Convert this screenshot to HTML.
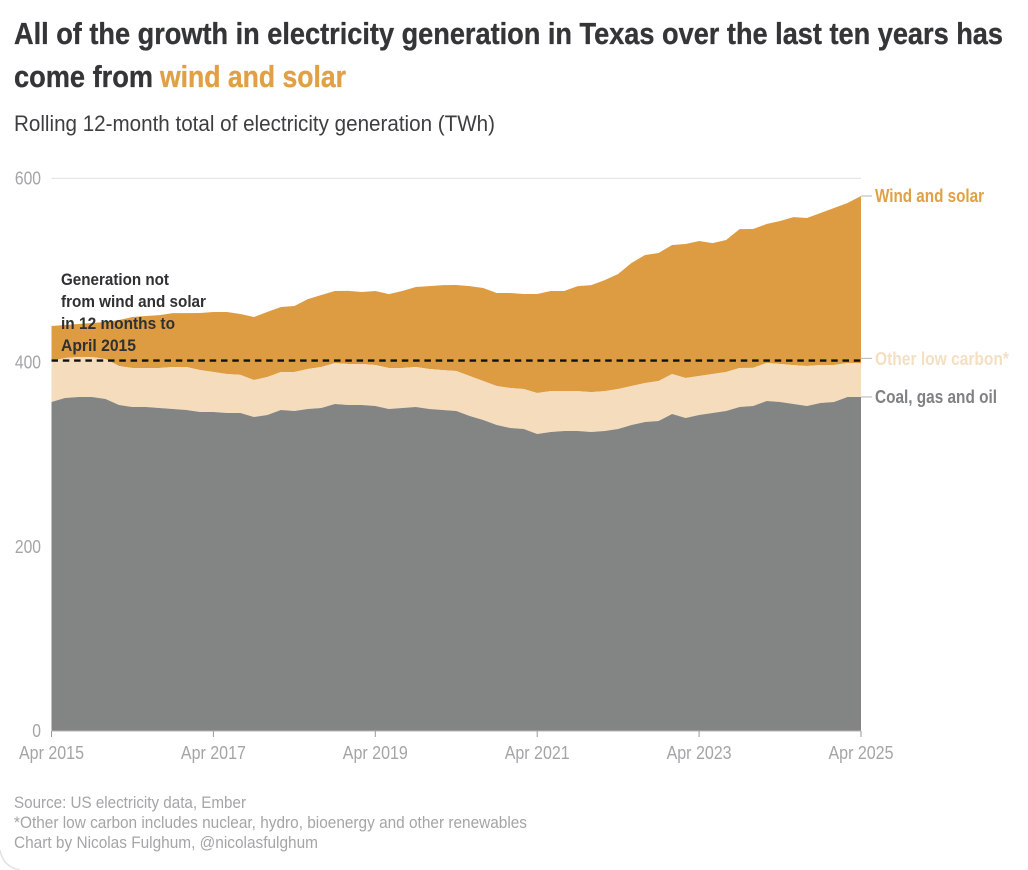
<!DOCTYPE html>
<html lang="en">
<head>
<meta charset="utf-8">
<title>Texas electricity generation</title>
<style>
html,body{margin:0;padding:0;background:#fff;width:1028px;height:870px;overflow:hidden}
svg{display:block}
text{font-family:"Liberation Sans Narrow","Liberation Sans",sans-serif}
</style>
</head>
<body>
<svg id="chart" width="1028" height="870" viewBox="0 0 1028 870" xmlns="http://www.w3.org/2000/svg">
  <rect width="1028" height="870" fill="#fff"/>
  <path d="M0 850 Q3 867 20 870" fill="none" stroke="#e2e2e2" stroke-width="1.5"/>
  <text x="14" y="44" font-size="31" font-weight="700" fill="#333536" stroke="#333536" stroke-width="0.35" textLength="989" lengthAdjust="spacingAndGlyphs">All of the growth in electricity generation in Texas over the last ten years has</text>
  <text x="14" y="87" font-size="31" font-weight="700" fill="#333536" stroke="#333536" stroke-width="0.35" textLength="139" lengthAdjust="spacingAndGlyphs">come from</text>
  <text x="160" y="87" font-size="31" font-weight="700" fill="#e0a045" stroke="#e0a045" stroke-width="0.35" textLength="186" lengthAdjust="spacingAndGlyphs">wind and solar</text>
  <text x="14" y="131" font-size="22" fill="#3c3e3f" textLength="481" lengthAdjust="spacingAndGlyphs">Rolling 12-month total of electricity generation (TWh)</text>
  <g id="plot"></g>
  <text x="61" y="285" font-size="17" font-weight="700" fill="#2e3031" textLength="108" lengthAdjust="spacingAndGlyphs">Generation not</text>
  <text x="61" y="307" font-size="17" font-weight="700" fill="#2e3031" textLength="145" lengthAdjust="spacingAndGlyphs">from wind and solar</text>
  <text x="61" y="329" font-size="17" font-weight="700" fill="#2e3031" textLength="114" lengthAdjust="spacingAndGlyphs">in 12 months to</text>
  <text x="61" y="351" font-size="17" font-weight="700" fill="#2e3031" textLength="75" lengthAdjust="spacingAndGlyphs">April 2015</text>
  <text x="875" y="202" font-size="18" font-weight="700" fill="#e0a045" textLength="109" lengthAdjust="spacingAndGlyphs">Wind and solar</text>
  <text x="875" y="365" font-size="18" font-weight="700" fill="#f4dfc3" textLength="134" lengthAdjust="spacingAndGlyphs">Other low carbon*</text>
  <text x="875" y="403" font-size="18" font-weight="700" fill="#7f8183" textLength="122" lengthAdjust="spacingAndGlyphs">Coal, gas and oil</text>
  <text x="14" y="808" font-size="17" fill="#a3a5a6" textLength="232" lengthAdjust="spacingAndGlyphs">Source: US electricity data, Ember</text>
  <text x="14" y="828" font-size="17" fill="#a3a5a6" textLength="513" lengthAdjust="spacingAndGlyphs">*Other low carbon includes nuclear, hydro, bioenergy and other renewables</text>
  <text x="14" y="848" font-size="17" fill="#a3a5a6" textLength="304" lengthAdjust="spacingAndGlyphs">Chart by Nicolas Fulghum, @nicolasfulghum</text>
</svg>
<script>
// One value every two months, Apr 2015 to Apr 2025 (TWh, rolling 12-month total)
const fossil = [357.2,361.6,362.7,362.7,360.5,354,351.8,351.8,350.7,349.6,348.5,346.4,346.4,345.3,345.3,340.9,343.1,348.5,347.5,349.6,350.7,355,354,354,352.9,349.6,350.7,351.8,349.6,348.5,347.5,342,337.7,332.3,329,327.9,322.5,324.6,325.7,325.7,324.6,325.7,327.9,332.3,335.5,336.6,344.2,339.9,343.1,345.3,347.5,351.8,352.9,358.3,357.2,355,352.9,356.1,357.2,362.7,362.7];
const otherLowCarbon = [44.5,43.4,43.4,43.4,43.4,42.3,42.3,42.3,43.4,45.6,46.7,45.6,43.4,42.3,41.3,40.2,41.3,41.3,42.3,43.4,44.5,44.5,44.5,44.5,44.5,44.5,43.4,43.4,43.4,43.4,43.4,43.4,42.3,42.3,43.4,43.4,44.5,44.5,43.4,43.4,43.4,43.4,43.4,42.3,42.3,43.4,43.4,43.4,42.3,42.3,42.3,42.3,41.3,41.3,41.3,42.3,43.4,41.3,40.2,36.9,36.9];
const windSolar = [38,35.8,35.8,36.9,40.2,49.9,55.4,56.5,57.5,58.6,58.6,61.9,65.1,67.3,66.2,68.4,70.6,70.6,71.7,76,78.2,78.2,79.3,78.2,80.3,80.3,83.6,86.9,90.1,92.3,93.4,97.7,101,101,103.2,103.2,107.5,108.6,108.6,114,116.2,120.5,124.9,133.6,139,139,140.1,145.5,146.6,142.2,143.3,150.9,150.9,150.9,155.3,160.7,160.7,165,170.5,173.7,181.3];
const monthsPerPoint = 2;
const totalMonths = 120;
const xTickLabels = ['Apr 2015','Apr 2017','Apr 2019','Apr 2021','Apr 2023','Apr 2025'];
const xTickMonths = [0,24,48,72,96,120];
const yTicks = [0,200,400,600];
const referenceLevel = 401.7;

const NS = 'http://www.w3.org/2000/svg';
const plot = document.getElementById('plot');
const xScale = m => 51.5 + (m / totalMonths) * 809.5;
const yScale = v => 731 - v * 0.921;

function make(tag, attrs) {
  const el = document.createElementNS(NS, tag);
  for (const k in attrs) el.setAttribute(k, attrs[k]);
  plot.appendChild(el);
  return el;
}
function areaPath(lower, upper) {
  let d = '';
  upper.forEach((v, i) => { d += (i ? 'L' : 'M') + xScale(i * monthsPerPoint).toFixed(1) + ' ' + yScale(v).toFixed(1); });
  for (let i = lower.length - 1; i >= 0; i--) d += 'L' + xScale(i * monthsPerPoint).toFixed(1) + ' ' + yScale(lower[i]).toFixed(1);
  return d + 'Z';
}

yTicks.forEach(t => {
  if (t === 600) {
    const grid = make('line', {x1: 51.5, x2: 861, y1: yScale(t), y2: yScale(t), stroke: '#e6e6e6', 'stroke-width': 1.3});
    
    
  }
  const label = make('text', {x: 41, y: yScale(t) + 6, 'text-anchor': 'end', 'font-size': 18, fill: '#a3a5a6', textLength: String(t).length * 8.7, lengthAdjust: 'spacingAndGlyphs'});
  label.textContent = t;
  
  
});

const zeros = fossil.map(() => 0);
const fossilTop = fossil.slice();
const otherTop = fossil.map((v, i) => v + otherLowCarbon[i]);
const windTop = otherTop.map((v, i) => v + windSolar[i]);

const windArea = make('path', {d: areaPath(otherTop, windTop), fill: '#de9c42'});


const otherArea = make('path', {d: areaPath(fossilTop, otherTop), fill: '#f4dcbc'});


const fossilArea = make('path', {d: areaPath(zeros, fossilTop), fill: '#838584'});



const axis = make('line', {x1: 51.5, x2: 861, y1: 731, y2: 731, stroke: '#b5b5b5', 'stroke-width': 1});



xTickMonths.forEach((m, i) => {
  const tick = make('line', {x1: xScale(m), x2: xScale(m), y1: 731, y2: 737, stroke: '#9a9a9a', 'stroke-width': 1});
  
  
  const label = make('text', {x: xScale(m), y: 759, 'text-anchor': 'middle', 'font-size': 18.5, fill: '#a3a5a6', textLength: 65, lengthAdjust: 'spacingAndGlyphs'});
  label.textContent = xTickLabels[i];
  
  
});

const refLine = make('line', {x1: 51.5, x2: 861, y1: yScale(referenceLevel) - 0.5, y2: yScale(referenceLevel) - 0.5, stroke: '#111', 'stroke-width': 2.4, 'stroke-dasharray': '6.5 4.8'});



const last = fossil.length - 1;
[[windTop[last], 'leader-wind-solar'], [otherTop[last] + 5, 'leader-other-low-carbon'], [fossilTop[last], 'leader-coal-gas-oil']].forEach(p => {
  const leader = make('line', {x1: 861, x2: 872, y1: yScale(p[0]), y2: yScale(p[0]), stroke: '#b5b5b5', 'stroke-width': 1});
  
  
});
</script>
</body>
</html>
